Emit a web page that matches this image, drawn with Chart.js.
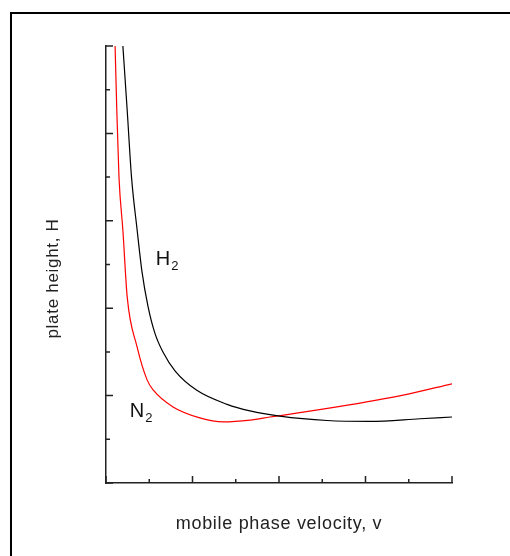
<!DOCTYPE html>
<html>
<head>
<meta charset="utf-8">
<script src="https://cdn.jsdelivr.net/npm/chart.js@4/dist/chart.umd.min.js"></script>
<style>
  body { margin: 0; background: #fff; }
  #wrap { position: relative; width: 510px; height: 556px; overflow: hidden; }
  #frame { position: absolute; left: 10px; top: 12px; width: 600px; height: 600px;
           border-left: 2px solid #000; border-top: 2px solid #000; }
  canvas { position: absolute; left: 0; top: 0; }
</style>
</head>
<body>
<div id="wrap">
  <div id="frame"></div>
  <canvas id="myChart" width="510" height="556"></canvas>
</div>
<script>
// velocity (x) and plate height (y), arbitrary units
var h2X = [0.39, 0.49, 0.59, 0.72, 0.83, 0.97, 1.13, 1.32, 1.60, 2.10, 2.80, 3.33, 4.02, 5.11, 6.10, 7.26, 8.0];
var h2Y = [10.0, 8.53, 7.00, 5.79, 4.85, 4.05, 3.43, 2.99, 2.56, 2.12, 1.80, 1.65, 1.53, 1.43, 1.41, 1.47, 1.51];

var n2X = [0.21, 0.25, 0.30, 0.39, 0.49, 0.72, 0.95, 1.09, 1.55, 2.17, 2.71, 3.33, 3.79, 5.34, 6.87, 8.0];
var n2Y = [10.0, 8.53, 7.00, 5.79, 4.26, 3.11, 2.36, 2.13, 1.74, 1.49, 1.40, 1.44, 1.51, 1.74, 2.01, 2.27];

// curve labels: [main, subscript, x, y]
var curveLabels = [["H", "2", 1.15, 5.0], ["N", "2", 0.55, 1.5]];
var yTitle = "plate height, H";

function toPoints(xs, ys) {
    var pts = [];
    for (var i = 0; i < xs.length; i++) {
        pts.push({x: xs[i], y: ys[i]});
    }
    return pts;
}

var FONT = "'Liberation Sans', Arial, sans-serif";

// the original lettering is set a little loose
var spacing = {
    id: 'spacing',
    beforeDraw: function(chart) { chart.ctx.letterSpacing = '0.7px'; }
};

// ticks point into the plot; every second one is long
var innerTicks = {
    id: 'innerTicks',
    afterDraw: function(chart) {
        var ctx = chart.ctx;
        var xs = chart.scales.x, ys = chart.scales.y;
        var a = chart.chartArea;
        ctx.save();
        ctx.strokeStyle = '#222';
        ctx.lineWidth = 1.5;
        ctx.beginPath();
        for (var i = 0; i <= 8; i++) {
            var px = xs.getPixelForValue(i);
            var len = (i % 2 == 0) ? 7 : 4;
            ctx.moveTo(px, a.bottom);
            ctx.lineTo(px, a.bottom - len);
        }
        for (var j = 0; j <= 10; j++) {
            var py = ys.getPixelForValue(j);
            var len2 = (j % 2 == 0) ? 7 : 4;
            ctx.moveTo(a.left, py);
            ctx.lineTo(a.left + len2, py);
        }
        ctx.stroke();

        // y title sits a bit below the middle of the axis
        ctx.save();
        ctx.fillStyle = '#222';
        ctx.font = '17px ' + FONT;
        ctx.textAlign = 'center';
        ctx.textBaseline = 'middle';
        ctx.translate(a.left - 53, (a.top + a.bottom) / 2 + 14);
        ctx.rotate(-Math.PI / 2);
        ctx.fillText(yTitle, 0, 0);
        ctx.restore();

        ctx.letterSpacing = '0px';
        ctx.fillStyle = '#111';
        ctx.textBaseline = 'alphabetic';
        curveLabels.forEach(function(l) {
            var x = xs.getPixelForValue(l[2]);
            var y = ys.getPixelForValue(l[3]);
            ctx.font = '20px ' + FONT;
            ctx.fillText(l[0], x, y);
            var w = ctx.measureText(l[0]).width;
            ctx.font = '13px ' + FONT;
            ctx.fillText(l[1], x + w + 1, y + 5);
        });
        ctx.restore();
    }
};

var ctx = document.getElementById("myChart").getContext('2d');
var myChart = new Chart(ctx, {
    type: 'line',
    data: {
        datasets: [{
            label: 'H2',
            data: toPoints(h2X, h2Y),
            borderColor: '#000',
            borderWidth: 1.2,
            pointRadius: 0,
            cubicInterpolationMode: 'monotone'
        }, {
            label: 'N2',
            data: toPoints(n2X, n2Y),
            borderColor: '#ff0000',
            borderWidth: 1.2,
            pointRadius: 0,
            cubicInterpolationMode: 'monotone'
        }]
    },
    options: {
        responsive: false,
        animation: false,
        layout: { padding: { top: 46, right: 58, left: 0, bottom: 0 } },
        plugins: { legend: { display: false }, tooltip: { enabled: false } },
        scales: {
            x: {
                type: 'linear', min: 0, max: 8,
                ticks: { display: false },
                grid: { display: false },
                border: { display: true, color: '#222', width: 1.5 },
                title: {
                    display: true, text: 'mobile phase velocity, v', color: '#222',
                    font: { family: FONT, size: 18 },
                    padding: { top: 0, bottom: 21 }
                },
                afterFit: function(s) { s.height = 73; }
            },
            y: {
                type: 'linear', min: 0, max: 10,
                ticks: { display: false },
                grid: { display: false },
                border: { display: true, color: '#222', width: 1.5 },
                title: { display: false },
                afterFit: function(s) { s.width = 106; }
            }
        }
    },
    plugins: [spacing, innerTicks]
});
</script>
</body>
</html>
